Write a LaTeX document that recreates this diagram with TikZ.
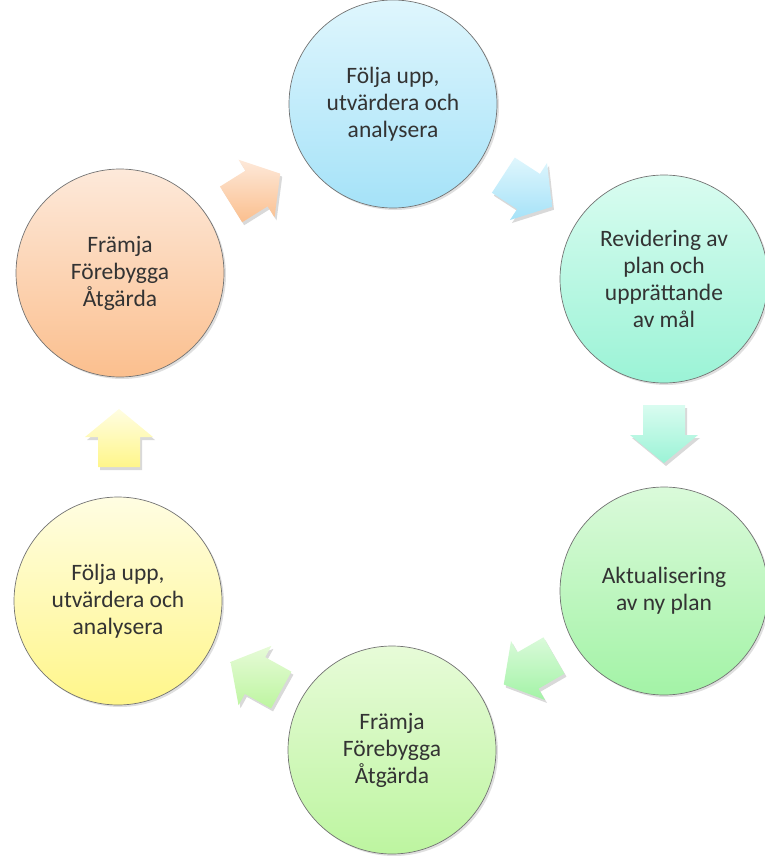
\documentclass[tikz,border=0pt]{standalone}
\usepackage{fontspec}
\setmainfont{Carlito}
\usetikzlibrary{shadows,calc}

\definecolor{blueTop}{HTML}{DFF6FD}
\definecolor{blueBot}{HTML}{A5E2F8}
\definecolor{mintTop}{HTML}{D9FCF0}
\definecolor{mintBot}{HTML}{9BF3D6}
\definecolor{greenTop}{HTML}{DAFADA}
\definecolor{greenBot}{HTML}{A3F3A6}
\definecolor{limeTop}{HTML}{E7FBD8}
\definecolor{limeBot}{HTML}{BDF5A0}
\definecolor{yellowTop}{HTML}{FFFDE2}
\definecolor{yellowBot}{HTML}{FFF68A}
\definecolor{orangeTop}{HTML}{FDE9DA}
\definecolor{orangeBot}{HTML}{FBBF8E}

\begin{document}
\begin{tikzpicture}[x=1pt,y=-1pt,
    stage/.style={shape=circle,draw=black!55,line width=0.7pt,minimum size=208pt,inner sep=0pt,
        align=center,text=black!80,font=\fontsize{23.5}{27}\selectfont,
        drop shadow={opacity=0.25,shadow xshift=2pt,shadow yshift=-2pt}},
    blockarrow/.style={draw=none,drop shadow={opacity=0.3,shadow xshift=2pt,shadow yshift=-3pt}}]
    \useasboundingbox (0,0) rectangle (765,856);
    \node[stage,top color=blueTop,bottom color=blueBot] (0) at (393,104) {Följa upp,\\utvärdera och\\analysera};
    \node[stage,top color=mintTop,bottom color=mintBot] (1) at (664,279) {Revidering av\\plan och\\upprättande\\av mål};
    \node[stage,top color=greenTop,bottom color=greenBot] (2) at (664,591) {Aktualisering\\av ny plan};
    \node[stage,top color=limeTop,bottom color=limeBot] (3) at (392,750) {Främja\\Förebygga\\Åtgärda};
    \node[stage,top color=yellowTop,bottom color=yellowBot] (4) at (118,601) {Följa upp,\\utvärdera och\\analysera};
    \node[stage,top color=orangeTop,bottom color=orangeBot] (5) at (120,273) {Främja\\Förebygga\\Åtgärda};
    % block arrows halfway between the stages
    \foreach \a/\b/\ang/\col in {0/1/-33/blue,1/2/-90/mint,2/3/210/green,3/4/151/lime,4/5/90/yellow,5/0/32/orange}{
        \coordinate (m\a\b) at ($(\a)!0.5!(\b)$);
        \begin{scope}[shift={(m\a\b)},rotate=\ang]
            \path[blockarrow,top color=\col Top,bottom color=\col Bot]
                (-30,-21) -- (0,-21) -- (0,-34) -- (28,0) -- (0,34) -- (0,21) -- (-30,21) -- cycle;
        \end{scope}
    }
\end{tikzpicture}
\end{document}
